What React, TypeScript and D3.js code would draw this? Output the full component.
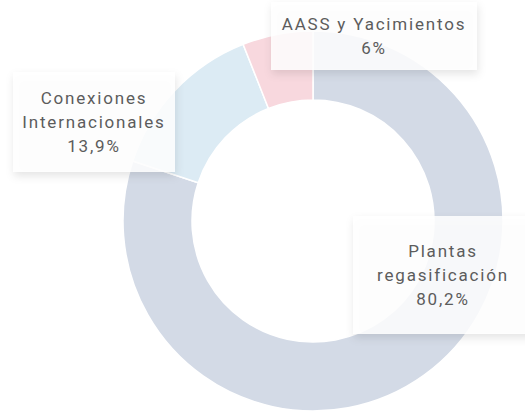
import React from 'react';
import * as d3 from 'd3';

// shares of the total, clockwise from 12 o'clock
const categories = ['Plantas regasificación', 'Conexiones Internacionales', 'AASS y Yacimientos'];
const values = [80.2, 13.9, 6];
const valueLabels = ['80,2%', '13,9%', '6%'];
const labelLines = [['Plantas', 'regasificación'], ['Conexiones', 'Internacionales'], ['AASS y Yacimientos']];
const colors = ['#d3dae6', '#dcebf4', '#f8d8de'];

const W = 525;
const H = 412;
const cx = 313;
const cy = 221;
const outerR = 190;
const innerR = 121;

// label boxes: centre of text block + box size
const boxes = [
  { x: 443, y: 275, w: 180, h: 118 },
  { x: 94, y: 122, w: 162, h: 100 },
  { x: 374, y: 36, w: 206, h: 68 },
];

export default function App() {
  const pie = d3.pie<number>().sort(null).value(d => d);
  const arcs = pie(values);
  const arc = d3.arc<d3.PieArcDatum<number>>().innerRadius(innerR).outerRadius(outerR);
  const lineH = 24;

  return (
    <svg width={W} height={H} style={{ position: 'absolute', left: 0, top: 0 }}>
      <defs>
        <filter id="sh" x="-20%" y="-20%" width="140%" height="150%">
          <feDropShadow dx="1" dy="4" stdDeviation="4" floodColor="#000" floodOpacity="0.12" />
        </filter>
      </defs>
      <rect width={W} height={H} fill="#fff" />
      <g transform={`translate(${cx},${cy})`}>
        {arcs.map((a, i) => (
          <path key={categories[i]} d={arc(a) || ''} fill={colors[i]} stroke="#fff" strokeWidth={1.5} />
        ))}
      </g>
      {boxes.map((b, i) => {
        const lines = [...labelLines[i], valueLabels[i]];
        const top = b.y - ((lines.length - 1) * lineH) / 2;
        return (
          <g key={i}>
            <rect x={b.x - b.w / 2} y={b.y - b.h / 2} width={b.w} height={b.h}
              fill="#fff" fillOpacity={0.85} filter="url(#sh)" />
            {lines.map((t, j) => (
              <text key={j} x={b.x} y={top + j * lineH} textAnchor="middle" dominantBaseline="central"
                fontFamily="Roboto, sans-serif" fontSize={17} letterSpacing={1.8} fill="#5c5c5c">{t}</text>
            ))}
          </g>
        );
      })}
    </svg>
  );
}
